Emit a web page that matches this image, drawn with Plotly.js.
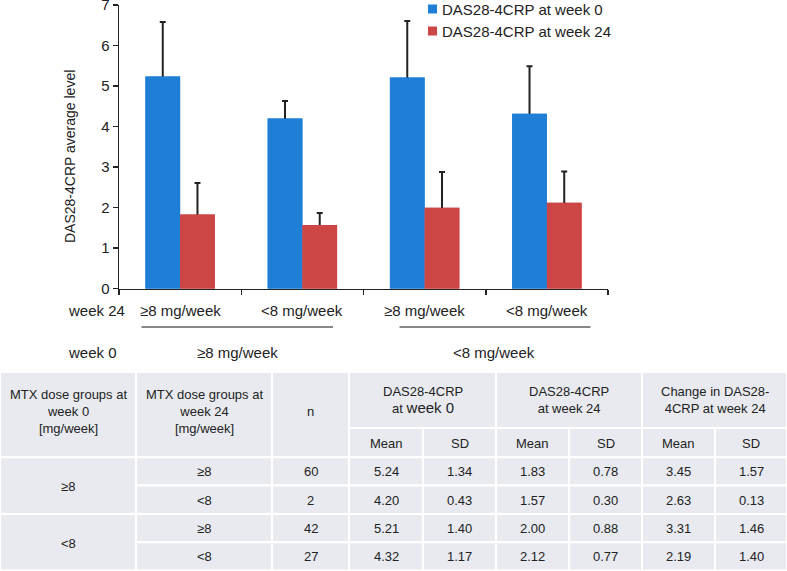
<!DOCTYPE html>
<html>
<head>
<meta charset="utf-8">
<script src="https://cdn.plot.ly/plotly-3.0.1.min.js"></script>
<style>html,body{margin:0;padding:0;background:#fff;}#chart{width:787px;height:571px;}</style>
</head>
<body>
<div id="chart"></div>
<script>
// ---- data ----
const seriesNames = ["DAS28-4CRP at week 0", "DAS28-4CRP at week 24"];
const week24Labels = ["≥8 mg/week", "<8 mg/week", "≥8 mg/week", "<8 mg/week"];
const week0Labels = ["≥8 mg/week", "<8 mg/week"];
const groupWeek0 = ["≥8", "<8"];
const groupWeek24 = ["≥8", "<8", "≥8", "<8"];
const nVals = [60, 2, 42, 27];
const mean0 = [5.24, 4.20, 5.21, 4.32];
const sd0 = [1.34, 0.43, 1.40, 1.17];
const mean24 = [1.83, 1.57, 2.00, 2.12];
const sd24 = [0.78, 0.30, 0.88, 0.77];
const changeMean = [3.45, 2.63, 3.31, 2.19];
const changeSD = [1.57, 0.13, 1.46, 1.40];
const yTicks = [0, 1, 2, 3, 4, 5, 6, 7];

// ---- layout helpers ----
const W = 787, H = 571;
const PX = x => x / W;
const PY = y => 1 - y / H;
const FONT = "Arial, 'Liberation Sans', sans-serif";
const TXT = "#222";
const BLUE = "#1f7fd6";
const RED = "#cc4646";
const xIdx = mean0.map((_, i) => i);
const BW = 0.284; // bar width in category units

function barTrace(name, y, color, offset, sd) {
  const t = {type: "bar", name: name, x: xIdx, y: y, width: BW, offset: offset,
    marker: {color: color, line: {width: 0}}, showlegend: false, hoverinfo: "y"};
  if (sd) t.error_y = {type: "data", array: sd, symmetric: true, color: "#222", thickness: 2, width: 3};
  return t;
}
// bars with error bars, then the same bars again on top to hide the lower half of each error bar
const traces = [
  barTrace(seriesNames[0], mean0, BLUE, -BW, sd0),
  barTrace(seriesNames[1], mean24, RED, 0, sd24),
  barTrace(seriesNames[0], mean0, BLUE, -BW, null),
  barTrace(seriesNames[1], mean24, RED, 0, null)
];

const shapes = [];
const annotations = [];
function ann(text, x, y, opts) {
  annotations.push(Object.assign({text: text, x: PX(x), y: PY(y), xref: "paper", yref: "paper",
    showarrow: false, font: {family: FONT, size: 13, color: TXT}, xanchor: "center", yanchor: "middle"}, opts || {}));
}

// y-axis title
ann("DAS28-4CRP average level", 70, 157, {textangle: -90, font: {family: FONT, size: 14, color: TXT}});

// legend (drawn)
const legColors = [BLUE, RED];
seriesNames.forEach((nm, i) => {
  const cy = 9 + i * 22;
  shapes.push({type: "rect", xref: "paper", yref: "paper", x0: PX(428), x1: PX(437), y0: PY(cy - 4.5), y1: PY(cy + 4.5),
    fillcolor: legColors[i], line: {width: 0}});
  ann(nm, 440, cy, {xanchor: "left", font: {family: FONT, size: 15, color: TXT}});
});

// x labels
const lblFont = {family: FONT, size: 15, color: TXT};
ann("week 24", 66, 310, {xanchor: "left", font: lblFont});
ann("week 0", 66, 352, {xanchor: "left", font: lblFont});
week24Labels.forEach((t, i) => {
  annotations.push({text: t, x: i, xref: "x", y: PY(310), yref: "paper", showarrow: false, font: lblFont, xanchor: "center", yanchor: "middle"});
});
const w0Centers = [237, 494];
const w0Lines = [[141.5, 333], [399.5, 590.5]];
week0Labels.forEach((t, i) => {
  ann(t, w0Centers[i], 352, {font: lblFont});
  shapes.push({type: "line", xref: "paper", yref: "paper", x0: PX(w0Lines[i][0]), x1: PX(w0Lines[i][1]), y0: PY(327), y1: PY(327),
    line: {color: "#111", width: 1.2}});
});

// ---- table ----
const FILL = "#e8eaf0";
function cell(x0, x1, y0, y1) {
  shapes.push({type: "rect", xref: "paper", yref: "paper", x0: PX(x0), x1: PX(x1), y0: PY(y0), y1: PY(y1),
    fillcolor: FILL, line: {color: "#ffffff", width: 2}, layer: "below"});
}
const cx = [0, 136, 272, 349, 423, 496, 569, 642, 715, 787];
const tTop = 372, hMid = 428, hBot = 457.3, rowH = 28.3;
// header
cell(cx[0], cx[1], tTop, hBot);
cell(cx[1], cx[2], tTop, hBot);
cell(cx[2], cx[3], tTop, hBot);
ann("MTX dose groups at<br>week 0<br>[mg/week]", (cx[0] + cx[1]) / 2, 411.7);
ann("MTX dose groups at<br>week 24<br>[mg/week]", (cx[1] + cx[2]) / 2, 411.7);
ann("n", (cx[2] + cx[3]) / 2, 411.7);
const topHeads = ["DAS28-4CRP<br>at <span style='font-size:15px'>week 0</span>", "DAS28-4CRP<br>at week 24", "Change in DAS28-<br>4CRP at week 24"];
const subHeads = ["Mean", "SD"];
topHeads.forEach((t, k) => {
  const a = cx[3 + 2 * k], b = cx[5 + 2 * k];
  cell(a, b, tTop, hMid);
  ann(t, (a + b) / 2, 399.5);
  for (let j = 0; j < 2; j++) {
    const c0 = cx[3 + 2 * k + j], c1 = cx[4 + 2 * k + j];
    cell(c0, c1, hMid, hBot);
    ann(subHeads[j], (c0 + c1) / 2, 443.5);
  }
});
// body
groupWeek0.forEach((g, gi) => {
  const y0 = hBot + gi * 2 * rowH, y1 = y0 + 2 * rowH;
  cell(cx[0], cx[1], y0, y1);
  ann(g, (cx[0] + cx[1]) / 2, (y0 + y1) / 2 + 1);
});
const bodyCols = [groupWeek24, nVals.map(String), mean0.map(v => v.toFixed(2)), sd0.map(v => v.toFixed(2)),
  mean24.map(v => v.toFixed(2)), sd24.map(v => v.toFixed(2)), changeMean.map(v => v.toFixed(2)), changeSD.map(v => v.toFixed(2))];
for (let r = 0; r < nVals.length; r++) {
  const y0 = hBot + r * rowH, y1 = y0 + rowH;
  bodyCols.forEach((col, c) => {
    const a = cx[1 + c], b = cx[2 + c];
    cell(a, b, y0, y1);
    ann(col[r], (a + b) / 2, (y0 + y1) / 2 + 0.5);
  });
}

const layout = {
  width: W, height: H,
  margin: {l: 0, r: 0, t: 0, b: 0, pad: 0},
  paper_bgcolor: "#fff", plot_bgcolor: "#fff",
  font: {family: FONT, color: TXT},
  barmode: "overlay",
  showlegend: false,
  xaxis: {domain: [119 / W, 608 / W], range: [-0.5, 3.5], tickmode: "array", tickvals: [-0.5, 0.5, 1.5, 2.5, 3.5],
    ticktext: ["", "", "", "", ""], ticks: "outside", ticklen: 5, tickwidth: 1.5, tickcolor: "#222",
    showline: true, linecolor: "#222", linewidth: 1.5, showgrid: false, zeroline: false, fixedrange: true},
  yaxis: {domain: [1 - 288.7 / H, 1 - 5 / H], range: [0, 7.002], tickmode: "array", tickvals: yTicks,
    ticks: "outside", ticklen: 5, tickwidth: 1.5, tickcolor: "#222", tickfont: {family: FONT, size: 15, color: TXT},
    ticklabeloverflow: "allow",
    showline: true, linecolor: "#222", linewidth: 1.5, showgrid: false, zeroline: false, fixedrange: true},
  shapes: shapes,
  annotations: annotations
};

Plotly.newPlot("chart", traces, layout, {displayModeBar: false, staticPlot: true});
</script>
</body>
</html>
